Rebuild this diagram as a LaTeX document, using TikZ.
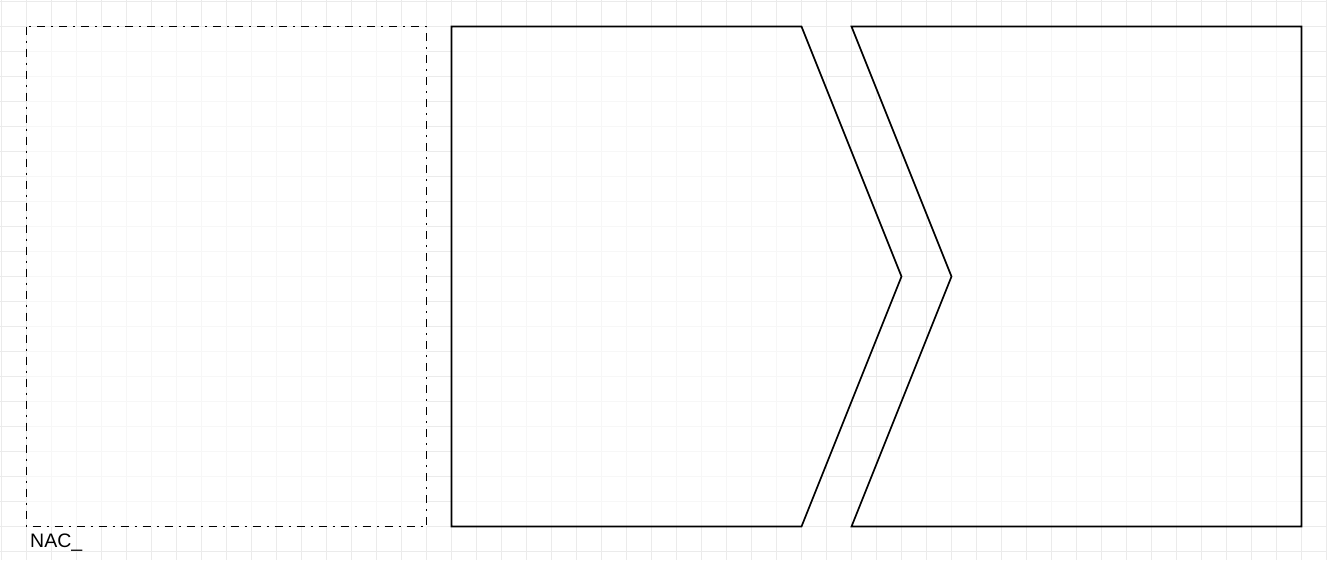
\documentclass[tikz,border=0pt]{standalone}
\usepackage{fontspec}
\setmainfont{Liberation Sans}
\definecolor{gridcol}{HTML}{EBEBEB}
\tikzset{
  gridline/.style={draw=gridcol, line width=1pt},
  shapeline/.style={draw=black, line width=1.7pt, line join=miter, fill=white, fill opacity=0.6},
  dashdot/.style={dash pattern=on 8pt off 6pt on 2pt off 6pt},
  caption/.style={anchor=base west, inner sep=0pt, font=\fontsize{19.5}{22}\selectfont}
}
\begin{document}
\begin{tikzpicture}[x=1pt, y=-1pt]
\useasboundingbox (0,0) rectangle (1327,560);
\fill[white] (0,0) rectangle (1327,560);
% grid
\foreach \k in {0,...,53} {
  \draw[gridline] ({1.5+25*\k},0) -- ({1.5+25*\k},560);
}
\foreach \k in {0,...,22} {
  \draw[gridline] (0,{1.5+25*\k}) -- (1327,{1.5+25*\k});
}
% dashed container
\coordinate (boxNW) at (26.5,26.5);
\coordinate (boxSE) at (426.5,526.5);
\path[shapeline, dashdot] (boxNW) rectangle (boxSE);
% pentagon (process arrow)
\path[shapeline] (451.5,26.5) -- (801.5,26.5) -- (901.5,276.5) -- (801.5,526.5) -- (451.5,526.5) -- cycle;
% chevron
\path[shapeline] (851.5,26.5) -- (1301.5,26.5) -- (1301.5,526.5) -- (851.5,526.5) -- (951.5,276.5) -- cycle;
% label
\node[caption] (nac) at (30,547) {NAC\_};
\end{tikzpicture}
\end{document}
